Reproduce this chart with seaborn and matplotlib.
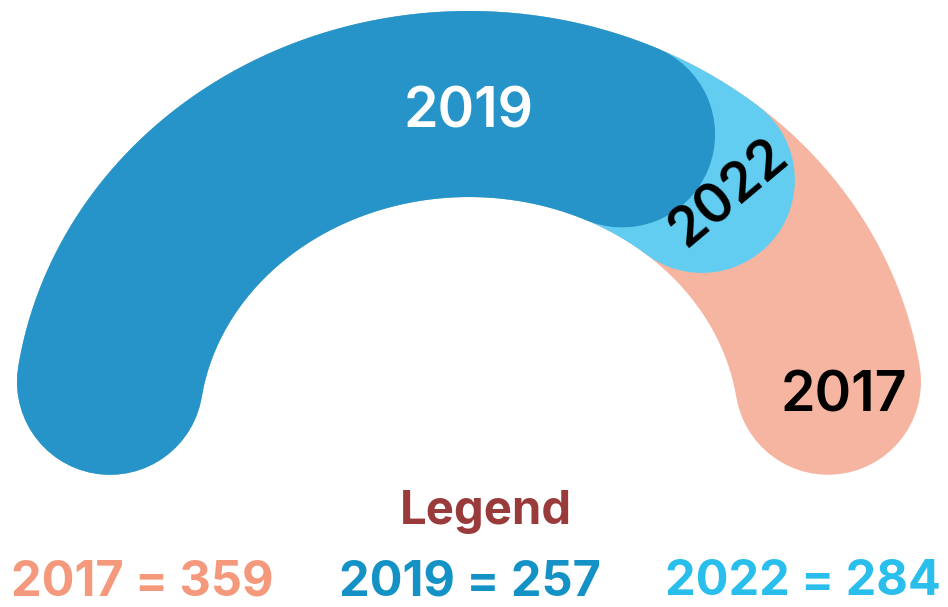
import numpy as np
import pandas as pd
import matplotlib
matplotlib.use("Agg")
import matplotlib.pyplot as plt
import seaborn as sns

# ---- data ----
years = ["2017", "2019", "2022"]
values = [359, 257, 284]
arc_colors = ["#F6B5A0", "#2694C8", "#63CDF1"]
legend_colors = ["#F4997C", "#1592C5", "#2ABEEC"]
draw_order = ["2017", "2022", "2019"]

# gauge scale (value range mapped onto the arch)
gauge_min, gauge_max = 65, 359
angle_start, angle_end = 171.5, 8.5   # degrees

sns.set_theme(style="white")
plt.rcParams["font.family"] = ["Inter", "DejaVu Sans"]

W, H = 948, 607
fig = plt.figure(figsize=(W / 100, H / 100), dpi=100)
ax = fig.add_axes([0, 0, 1, 1])

cx, cy = 469, 430
rx, ry = 363, 326
stroke_px = 186
lw_pt = stroke_px * 72 / 100


def value_to_angle(v):
    frac = (v - gauge_min) / (gauge_max - gauge_min)
    return np.deg2rad(angle_start + frac * (angle_end - angle_start))


def arc_points(value, n=400):
    t = np.linspace(np.deg2rad(angle_start), value_to_angle(value), n)
    return cx + rx * np.cos(t), cy - ry * np.sin(t)


lookup = {y: (v, c) for y, v, c in zip(years, values, arc_colors)}
for yr in draw_order:
    v, c = lookup[yr]
    xs, ys = arc_points(v)
    df = pd.DataFrame({"x": xs, "y": ys})
    sns.lineplot(data=df, x="x", y="y", sort=False, estimator=None, ax=ax,
                 color=c, linewidth=lw_pt, solid_capstyle="round",
                 solid_joinstyle="round")

ax.set_xlim(0, W)
ax.set_ylim(H, 0)
ax.axis("off")

# arc labels
ax.text(469, 112, "2019", color="white", fontsize=40, fontweight="semibold",
        ha="center", va="center")
ax.text(729, 193, "2022", color="black", fontsize=39, fontweight="semibold",
        ha="center", va="center", rotation=40, rotation_mode="anchor")
ax.text(844, 396, "2017", color="black", fontsize=40, fontweight="semibold",
        ha="center", va="center")

# legend
ax.text(486, 512, "Legend", color="#9A3B3B", fontsize=34, fontweight="bold",
        ha="center", va="center")
xs_leg = [142, 470, 803]
for x0, yr, v, c in zip(xs_leg, years, values, legend_colors):
    ax.text(x0, 582, f"{yr} = {v}", color=c, fontsize=35, fontweight="bold",
            ha="center", va="center")

fig.savefig("out.png", dpi=100)
